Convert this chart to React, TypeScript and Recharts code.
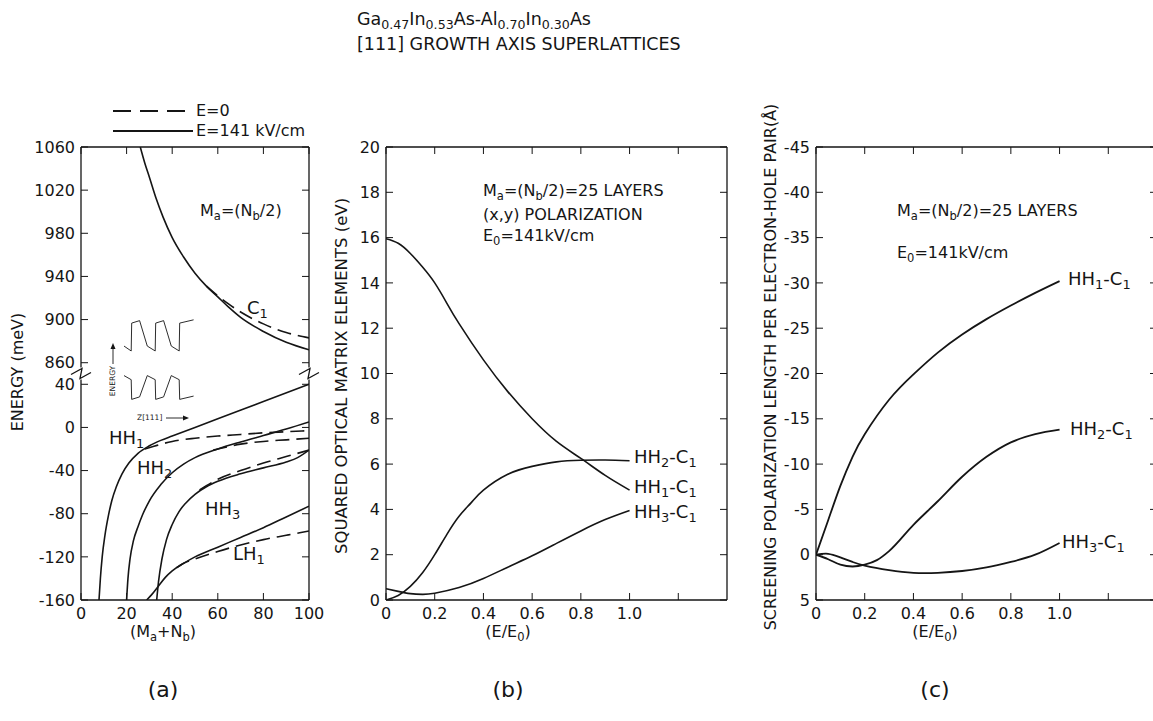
import React from 'react';
import { LineChart, Line, XAxis, YAxis, ReferenceDot } from 'recharts';

const FONT = '"DejaVu Sans", "Liberation Sans", Arial, sans-serif';
const INK = '#151515';

// ---- panel (a): energy (meV) vs (Ma+Nb) ----
const aXTicks = [0, 20, 40, 60, 80, 100];
// broken axis: 860..1060 is drawn shifted down by 800 so it sits above 40
const BREAK_SHIFT = 800;
const aYTicks = [-160, -120, -80, -40, 0, 40, 60, 100, 140, 180, 220, 260];

const c1Solid = [[26, 1060], [28, 1045], [30, 1032], [33, 1012], [36, 995], [40, 976], [45, 958], [50, 943], [55, 931], [60, 921], [65, 911], [70, 902], [80, 889], [90, 879], [100, 872]];
const c1Dashed = [[55, 931], [60, 922], [65, 914], [70, 907], [80, 896], [90, 888], [100, 883]];
const hh1Solid = [[7.9, -160], [8.5, -140], [9.3, -120], [10.5, -100], [12, -82], [13.5, -68], [15.5, -55], [18, -43], [21, -33], [25, -24], [30, -17], [35, -12], [40, -8], [60, 8], [80, 24], [100, 40]];
const hh1Dashed = [[28, -20], [32, -17.5], [36, -15], [40, -13], [50, -10], [60, -8], [70, -6.5], [80, -5], [90, -4], [100, -3]];
const hh2Solid = [[20, -160], [20.6, -140], [21.5, -122], [23, -105], [25, -92], [27, -81], [30, -68], [35, -53], [40, -42], [45, -34], [50, -28], [60, -20], [70, -13.5], [80, -7.5], [90, -1.5], [100, 5]];
const hh2Dashed = [[58, -21], [60, -20], [70, -15.5], [80, -13], [90, -11.5], [100, -10]];
const hh3Solid = [[33.2, -160], [34, -143], [35.5, -122], [37.5, -104], [40, -90], [43, -78], [46, -70], [50, -62], [55, -55], [60, -50], [70, -43], [80, -37.5], [90, -32], [95, -28], [100, -21]];
const hh3Dashed = [[52, -58], [55, -54], [60, -48], [70, -40], [80, -33], [90, -27], [100, -21]];
const lh1Solid = [[28.8, -160], [31, -155], [34, -147], [37, -139], [40, -133], [45, -126], [50, -120], [60, -111], [70, -102], [80, -93], [90, -83], [100, -73]];
const lh1Dashed = [[42, -130], [45, -126], [50, -122], [60, -115], [70, -109], [80, -104], [90, -100], [100, -96]];

// schematic band diagram inset (arbitrary units)
const insetCond = [[0, 1.2], [0.3, 0.6], [0.32, 4.0], [0.65, 4.3], [0.97, 1.2], [1.3, 0.6], [1.32, 4.0], [1.65, 4.3], [1.97, 1.2], [2.3, 0.6], [2.32, 4.0], [2.9, 4.4]];
const insetVal = [[0, -2.4], [0.3, -2.9], [0.32, -5.3], [0.65, -5.0], [0.97, -2.4], [1.3, -2.9], [1.32, -5.3], [1.65, -5.0], [1.97, -2.4], [2.3, -2.9], [2.32, -5.3], [2.9, -4.9]];

// ---- panel (b): squared optical matrix elements (eV) vs E/E0 ----
const bXTicks = [0, 0.2, 0.4, 0.6, 0.8, 1.0, 1.2];
const bYTicks = [0, 2, 4, 6, 8, 10, 12, 14, 16, 18, 20];
const bHH1 = [[0, 15.95], [0.05, 15.75], [0.1, 15.3], [0.15, 14.7], [0.2, 14.0], [0.25, 13.1], [0.3, 12.2], [0.4, 10.6], [0.5, 9.2], [0.6, 8.0], [0.7, 7.0], [0.8, 6.25], [0.9, 5.5], [1.0, 4.85]];
const bHH2 = [[0, 0], [0.05, 0.2], [0.1, 0.6], [0.15, 1.2], [0.2, 2.0], [0.25, 2.9], [0.3, 3.7], [0.35, 4.3], [0.4, 4.85], [0.5, 5.55], [0.6, 5.9], [0.7, 6.1], [0.8, 6.17], [0.9, 6.18], [1.0, 6.15]];
const bHH3 = [[0, 0.5], [0.05, 0.38], [0.1, 0.28], [0.15, 0.25], [0.2, 0.3], [0.3, 0.55], [0.4, 0.95], [0.5, 1.45], [0.6, 1.95], [0.7, 2.5], [0.8, 3.05], [0.9, 3.55], [1.0, 3.95]];

// ---- panel (c): screening polarization length (Å) vs E/E0 ----
const cYTicks = [-45, -40, -35, -30, -25, -20, -15, -10, -5, 0, 5];
const cHH1 = [[0, 0], [0.05, -3.8], [0.1, -7.6], [0.15, -10.8], [0.2, -13.3], [0.3, -17.1], [0.4, -19.9], [0.5, -22.3], [0.6, -24.3], [0.7, -26], [0.8, -27.5], [0.9, -28.9], [1.0, -30.2]];
const cHH2 = [[0, 0], [0.05, 0.5], [0.1, 1.1], [0.15, 1.3], [0.2, 1.1], [0.25, 0.6], [0.3, -0.4], [0.4, -3.3], [0.5, -5.9], [0.6, -8.6], [0.7, -10.8], [0.8, -12.4], [0.9, -13.3], [1.0, -13.8]];
const cHH3 = [[0, 0], [0.05, -0.1], [0.1, 0.3], [0.15, 0.8], [0.2, 1.2], [0.3, 1.7], [0.4, 2.0], [0.5, 2.0], [0.6, 1.8], [0.7, 1.4], [0.8, 0.8], [0.9, 0.0], [1.0, -1.3]];

const pts = (arr: number[][]) => arr.map(([x, y]) => ({ x, y }));
const ptsA = (arr: number[][]) => arr.map(([x, y]) => ({ x, y: y >= 800 ? y - BREAK_SHIFT : y }));

const tickStyle = { fontSize: 16, fill: INK, fontFamily: FONT };
const blank = () => '';

const Sub = ({ children }: { children: React.ReactNode }) => (
  <span style={{ fontSize: '0.72em', verticalAlign: '-0.32em' }}>{children}</span>
);

function Txt({ x, y, size = 16, center = false, children }: { x: number; y: number; size?: number; center?: boolean; children: React.ReactNode }) {
  return (
    <div
      style={{
        position: 'absolute', left: x, top: y, fontSize: size, fontFamily: FONT, color: INK,
        whiteSpace: 'nowrap', lineHeight: 1, transform: center ? 'translate(-50%, -50%)' : 'translateY(-50%)',
      }}
    >
      {children}
    </div>
  );
}

function VTxt({ x, y, size = 16, children }: { x: number; y: number; size?: number; children: React.ReactNode }) {
  return (
    <div
      style={{
        position: 'absolute', left: x, top: y, fontSize: size, fontFamily: FONT, color: INK,
        whiteSpace: 'nowrap', lineHeight: 1, transform: 'translate(-50%, -50%) rotate(-90deg)',
      }}
    >
      {children}
    </div>
  );
}

const lineProps = {
  type: 'monotone' as const, dataKey: 'y', stroke: INK, strokeWidth: 1.6, dot: false,
  isAnimationActive: false, xAxisId: 'b', yAxisId: 'l',
};
const DASH = '14 7';

const BreakMark = (props: any) => {
  const { cx, cy } = props;
  return (
    <g>
      <rect x={cx - 2} y={cy - 6} width={4} height={12} fill="#fff" />
      <path d={`M${cx - 10},${cy + 1} L${cx + 1},${cy - 5} L${cx - 1},${cy + 5} L${cx + 10},${cy - 1}`} fill="none" stroke={INK} strokeWidth={1.3} />
    </g>
  );
};

const fmtA = (v: number) => String(v >= 60 ? v + BREAK_SHIFT : v);
const fmtB = (v: number) => (v > 1.05 ? '' : v === 0 ? '0' : v.toFixed(1));

// labelled bottom/left axes plus mirrored axes that draw the inward ticks on all four sides
function Frame({ xDomain, xTicks, yDomain, yTicks, yFmt, yWidth, reversed = false, xFmt }: any) {
  const common = { type: 'number' as const, interval: 0 as const, allowDataOverflow: true, stroke: INK };
  const frameLine = { stroke: INK, strokeWidth: 1.3 };
  return [
    <XAxis key="xb" xAxisId="b" dataKey="x" domain={xDomain} ticks={xTicks} {...common} axisLine={frameLine}
      tickLine={false} tickSize={4} tickMargin={4} height={30} tick={tickStyle} tickFormatter={xFmt} />,
    <XAxis key="xbm" xAxisId="bm" dataKey="x" domain={xDomain} ticks={xTicks} {...common} mirror
      axisLine={false} tickSize={7} tick={tickStyle} tickFormatter={blank} />,
    <XAxis key="xt" xAxisId="t" orientation="top" dataKey="x" domain={xDomain} ticks={xTicks} {...common} mirror
      axisLine={frameLine} tickSize={7} tick={tickStyle} tickFormatter={blank} />,
    <YAxis key="yl" yAxisId="l" domain={yDomain} ticks={yTicks} {...common} reversed={reversed} axisLine={frameLine}
      tickLine={false} tickSize={3} tickMargin={3} width={yWidth} tick={tickStyle} tickFormatter={yFmt} />,
    <YAxis key="ylm" yAxisId="lm" domain={yDomain} ticks={yTicks} {...common} reversed={reversed} mirror
      axisLine={false} tickSize={7} tick={tickStyle} tickFormatter={blank} />,
    <YAxis key="yr" yAxisId="r" orientation="right" domain={yDomain} ticks={yTicks} {...common} reversed={reversed} mirror
      axisLine={frameLine} tickSize={7} tick={tickStyle} tickFormatter={blank} />,
  ];
}

export default function App() {
  return (
    <div style={{ position: 'absolute', left: 0, top: 0, width: 1153, height: 721, overflow: 'hidden', background: '#fff' }}>
      {/* title */}
      <Txt x={357} y={21} size={17.5}>Ga<Sub>0.47</Sub>In<Sub>0.53</Sub>As-Al<Sub>0.70</Sub>In<Sub>0.30</Sub>As</Txt>
      <Txt x={357} y={45} size={17.5}>[111] GROWTH AXIS SUPERLATTICES</Txt>

      {/* panel (a) */}
      <div style={{ position: 'absolute', left: 0, top: 100 }}>
        <LineChart width={330} height={560} margin={{ top: 47, right: 21, bottom: 30, left: 0 }}>
          {Frame({ xDomain: [0, 100], xTicks: aXTicks, yDomain: [-160, 260], yTicks: aYTicks, yFmt: fmtA, yWidth: 81 })}
          <Line {...lineProps} data={ptsA(c1Solid)} />
          <Line {...lineProps} data={ptsA(c1Dashed)} strokeDasharray={DASH} />
          <Line {...lineProps} data={pts(hh1Solid)} />
          <Line {...lineProps} data={pts(hh1Dashed)} strokeDasharray={DASH} />
          <Line {...lineProps} data={pts(hh2Solid)} />
          <Line {...lineProps} data={pts(hh2Dashed)} strokeDasharray={DASH} />
          <Line {...lineProps} data={pts(hh3Solid)} />
          <Line {...lineProps} data={pts(hh3Dashed)} strokeDasharray={DASH} />
          <Line {...lineProps} data={pts(lh1Solid)} />
          <Line {...lineProps} data={pts(lh1Dashed)} strokeDasharray={DASH} />
          <ReferenceDot xAxisId="b" yAxisId="l" x={0} y={50} r={0} shape={BreakMark} />
          <ReferenceDot xAxisId="b" yAxisId="l" x={100} y={50} r={0} shape={BreakMark} />
        </LineChart>
      </div>

      {/* inset band diagram */}
      <div style={{ position: 'absolute', left: 124, top: 319 }}>
        <LineChart width={72} height={82} margin={{ top: 0, right: 0, bottom: 0, left: 0 }}>
          <XAxis type="number" dataKey="x" domain={[0, 3]} hide />
          <YAxis type="number" domain={[-5.5, 4.5]} hide />
          <Line type="linear" dataKey="y" data={pts(insetCond)} stroke={INK} strokeWidth={0.9} dot={false} isAnimationActive={false} />
          <Line type="linear" dataKey="y" data={pts(insetVal)} stroke={INK} strokeWidth={0.9} dot={false} isAnimationActive={false} />
        </LineChart>
      </div>
      <svg style={{ position: 'absolute', left: 0, top: 0 }} width={330} height={660}>
        <line x1={113} y1={364} x2={113} y2={346} stroke={INK} strokeWidth={0.9} />
        <path d="M110.5,349 L113,343 L115.5,349 Z" fill={INK} />
        <line x1={166} y1={418} x2={186} y2={418} stroke={INK} strokeWidth={0.9} />
        <path d="M183,415.5 L189,418 L183,420.5 Z" fill={INK} />
        {/* legend */}
        <line x1={113} y1={111} x2={193} y2={111} stroke={INK} strokeWidth={1.8} strokeDasharray="18 9" />
        <line x1={113} y1={131} x2={193} y2={131} stroke={INK} strokeWidth={1.8} />
      </svg>
      <VTxt x={113} y={381} size={7.5}>ENERGY</VTxt>
      <Txt x={137} y={418} size={7.5}>Z[111]</Txt>
      <Txt x={196} y={111}>E=0</Txt>
      <Txt x={196} y={131}>E=141 kV/cm</Txt>

      <Txt x={200} y={213}>M<Sub>a</Sub>=(N<Sub>b</Sub>/2)</Txt>
      <Txt x={247} y={310} size={18}>C<Sub>1</Sub></Txt>
      <Txt x={109} y={440} size={18}>HH<Sub>1</Sub></Txt>
      <Txt x={137} y={470} size={18}>HH<Sub>2</Sub></Txt>
      <Txt x={205} y={511} size={18}>HH<Sub>3</Sub></Txt>
      <Txt x={233} y={556} size={18}>LH<Sub>1</Sub></Txt>
      <VTxt x={18} y={372}>ENERGY (meV)</VTxt>
      <Txt x={163} y={634} center>(M<Sub>a</Sub>+N<Sub>b</Sub>)</Txt>
      <Txt x={163} y={690} size={22} center>(a)</Txt>

      {/* panel (b) */}
      <div style={{ position: 'absolute', left: 300, top: 100 }}>
        <LineChart width={450} height={560} margin={{ top: 47, right: 23, bottom: 30, left: 0 }}>
          {Frame({ xDomain: [0, 1.4], xTicks: bXTicks, xFmt: fmtB, yDomain: [0, 20], yTicks: bYTicks, yWidth: 86 })}
          <Line {...lineProps} type="natural" data={pts(bHH1)} />
          <Line {...lineProps} type="natural" data={pts(bHH2)} />
          <Line {...lineProps} type="natural" data={pts(bHH3)} />
        </LineChart>
      </div>
      <Txt x={483} y={193}>M<Sub>a</Sub>=(N<Sub>b</Sub>/2)=25 LAYERS</Txt>
      <Txt x={483} y={215}>(x,y) POLARIZATION</Txt>
      <Txt x={483} y={238}>E<Sub>0</Sub>=141kV/cm</Txt>
      <Txt x={634} y={459} size={18}>HH<Sub>2</Sub>-C<Sub>1</Sub></Txt>
      <Txt x={634} y={489} size={18}>HH<Sub>1</Sub>-C<Sub>1</Sub></Txt>
      <Txt x={634} y={514} size={18}>HH<Sub>3</Sub>-C<Sub>1</Sub></Txt>
      <VTxt x={342} y={376} size={16.5}>SQUARED OPTICAL MATRIX ELEMENTS (eV)</VTxt>
      <Txt x={508} y={634} center>(E/E<Sub>0</Sub>)</Txt>
      <Txt x={508} y={690} size={22} center>(b)</Txt>

      {/* panel (c) */}
      <div style={{ position: 'absolute', left: 730, top: 100 }}>
        <LineChart width={440} height={560} margin={{ top: 47, right: 13, bottom: 30, left: 0 }}>
          {Frame({ xDomain: [0, 1.4], xTicks: bXTicks, xFmt: fmtB, yDomain: [-45, 5], yTicks: cYTicks, yWidth: 86, reversed: true })}
          <Line {...lineProps} type="natural" data={pts(cHH1)} strokeWidth={1.8} />
          <Line {...lineProps} data={pts(cHH2)} strokeWidth={1.8} />
          <Line {...lineProps} type="natural" data={pts(cHH3)} strokeWidth={1.8} />
        </LineChart>
      </div>
      <Txt x={897} y={213}>M<Sub>a</Sub>=(N<Sub>b</Sub>/2)=25 LAYERS</Txt>
      <Txt x={897} y={255}>E<Sub>0</Sub>=141kV/cm</Txt>
      <Txt x={1068} y={281} size={18}>HH<Sub>1</Sub>-C<Sub>1</Sub></Txt>
      <Txt x={1070} y={431} size={18}>HH<Sub>2</Sub>-C<Sub>1</Sub></Txt>
      <Txt x={1062} y={544} size={18}>HH<Sub>3</Sub>-C<Sub>1</Sub></Txt>
      <VTxt x={771} y={367} size={16}>SCREENING POLARIZATION LENGTH PER ELECTRON-HOLE PAIR(Å)</VTxt>
      <Txt x={935} y={634} center>(E/E<Sub>0</Sub>)</Txt>
      <Txt x={935} y={690} size={22} center>(c)</Txt>
    </div>
  );
}
